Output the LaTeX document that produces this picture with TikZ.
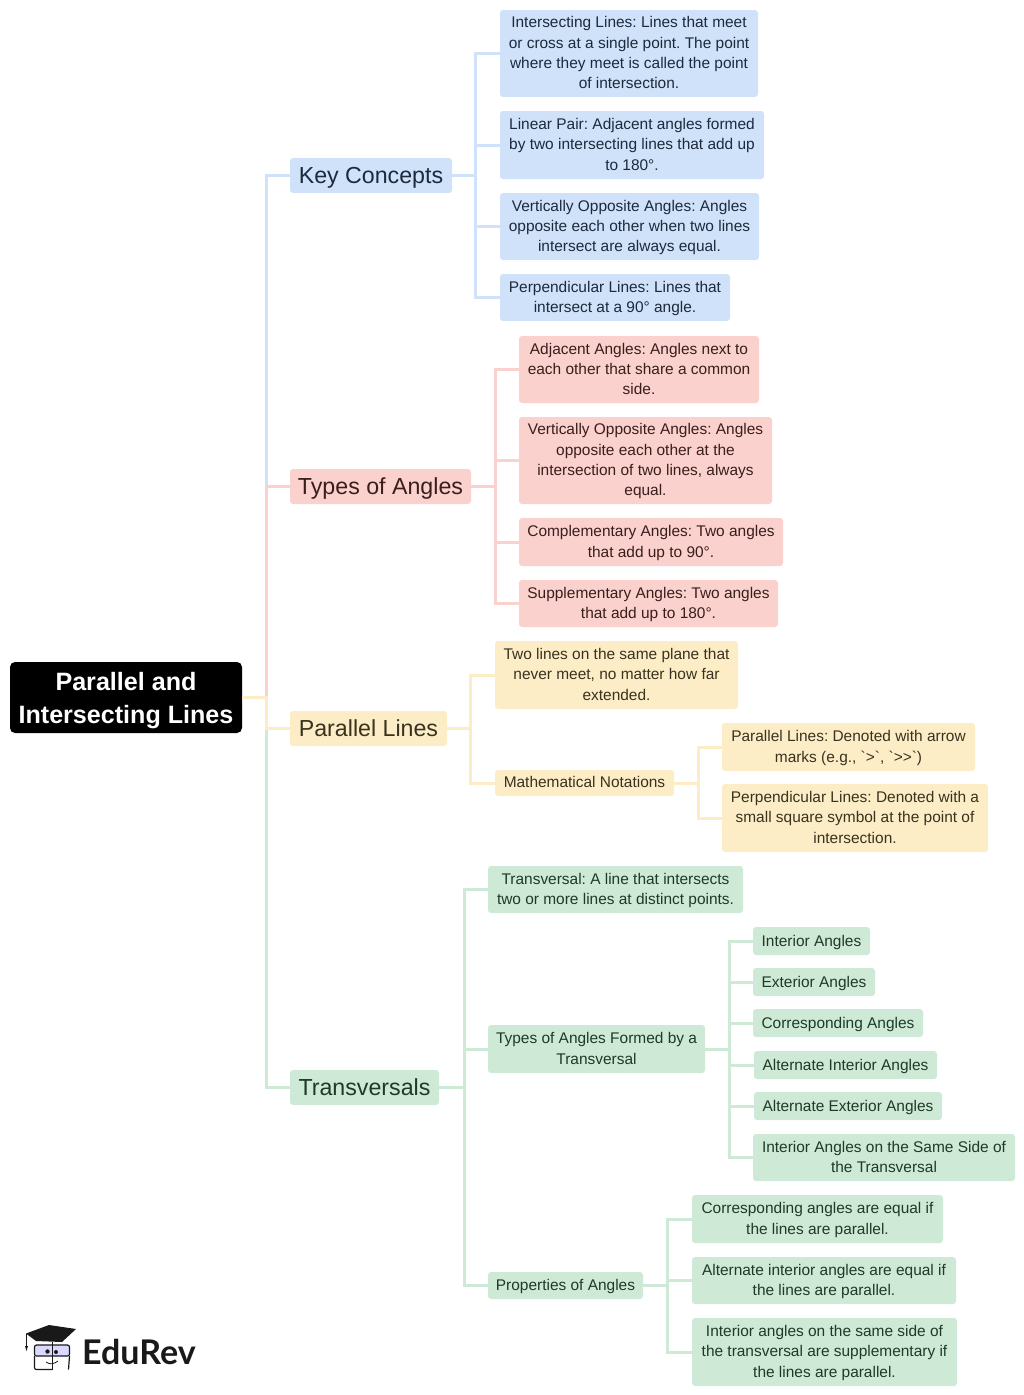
\documentclass[tikz,border=0pt]{standalone}
\usepackage{fontspec}
\newfontfamily\mapfont{Liberation Sans}
\newfontfamily\logofont{Lato}
\usetikzlibrary{calc}

\definecolor{bluefill}{HTML}{CFE2F9}
\definecolor{pinkfill}{HTML}{FAD1CD}
\definecolor{yellowfill}{HTML}{FDEDC6}
\definecolor{greenfill}{HTML}{CEEAD6}
\definecolor{bluetext}{HTML}{1D2A3D}
\definecolor{pinktext}{HTML}{3A1E1C}
\definecolor{yellowtext}{HTML}{38321F}
\definecolor{greentext}{HTML}{1E3A28}

% Height of the first line in a box
\newcommand{\topline}{\rule{0pt}{13.3pt}}

\tikzset{
    leaf/.style={rounded corners=3pt, inner sep=0pt, align=center,
        font=\mapfont\frenchspacing\fontsize{15.45}{20.3}\selectfont,
        execute at end node={\rule[-3.5pt]{0pt}{3.5pt}}},
    oneline/.style={execute at begin node={\rule{0pt}{15pt}}},
    head/.style={font=\mapfont\fontsize{23.2}{29}\selectfont,
        execute at begin node={\rule{0pt}{22pt}}, execute at end node={\rule[-5.4pt]{0pt}{5.4pt}}},
    bluebox/.style={leaf, fill=bluefill, text=bluetext},
    pinkbox/.style={leaf, fill=pinkfill, text=pinktext},
    yellowbox/.style={leaf, fill=yellowfill, text=yellowtext},
    greenbox/.style={leaf, fill=greenfill, text=greentext},
    bluelink/.style={draw=bluefill, line width=3pt},
    pinklink/.style={draw=pinkfill, line width=3pt},
    yellowlink/.style={draw=yellowfill, line width=3pt},
    greenlink/.style={draw=greenfill, line width=3pt}
}

\begin{document}
\begin{tikzpicture}[x=1pt, y=-1pt]
    \useasboundingbox (0,0) rectangle (1024,1395);

    % Root
    \node[rounded corners=5pt, fill=black, text=white, inner sep=0pt, align=center,
        font=\mapfont\bfseries\fontsize{25.1}{33}\selectfont,
        execute at end node={\rule[-5.5pt]{0pt}{5.5pt}},
        minimum width=232pt, minimum height=71pt] (root) at (126,697.5) {\rule{0pt}{23.5pt}Parallel and\\Intersecting Lines};

    % Main branches
    \node[bluebox, head, minimum width=162pt, minimum height=35pt] (concepts) at (371,175.5) {Key Concepts};
    \node[pinkbox, head, minimum width=181pt, minimum height=35pt] (angles) at (380.5,486.5) {Types of Angles};
    \node[yellowbox, head, minimum width=157pt, minimum height=35pt] (parallel) at (368.5,728.5) {Parallel Lines};
    \node[greenbox, head, minimum width=149pt, minimum height=35pt] (transversals) at (364.5,1087.5) {Transversals};

    % Key Concepts
    \node[bluebox, minimum width=258pt, minimum height=87pt] (intersecting) at (629,53.5) {\topline Intersecting Lines: Lines that meet\\or cross at a single point. The point\\where they meet is called the point\\of intersection.};
    \node[bluebox, minimum width=264pt, minimum height=68pt] (linear) at (632,145) {\topline Linear Pair: Adjacent angles formed\\by two intersecting lines that add up\\to 180°.};
    \node[bluebox, minimum width=259pt, minimum height=67pt] (vertical) at (629.5,226.5) {\topline Vertically Opposite Angles: Angles\\opposite each other when two lines\\intersect are always equal.};
    \node[bluebox, minimum width=230pt, minimum height=47pt] (perpendicular) at (615,297.5) {\topline Perpendicular Lines: Lines that\\intersect at a 90° angle.};

    % Types of Angles
    \node[pinkbox, minimum width=240pt, minimum height=67pt] (adjacent) at (639,369.5) {\topline Adjacent Angles: Angles next to\\each other that share a common\\side.};
    \node[pinkbox, minimum width=253pt, minimum height=87pt] (opposite) at (645.5,460.5) {\topline Vertically Opposite Angles: Angles\\opposite each other at the\\intersection of two lines, always\\equal.};
    \node[pinkbox, minimum width=264pt, minimum height=48pt] (complementary) at (651,542) {\topline Complementary Angles: Two angles\\that add up to 90°.};
    \node[pinkbox, minimum width=259pt, minimum height=47pt] (supplementary) at (648.5,603.5) {\topline Supplementary Angles: Two angles\\that add up to 180°.};

    % Parallel Lines
    \node[yellowbox, minimum width=243pt, minimum height=68pt] (plane) at (616.5,675) {\topline Two lines on the same plane that\\never meet, no matter how far\\extended.};
    \node[yellowbox, minimum width=179pt, minimum height=26pt] (notations) at (584.5,783) {\topline Mathematical Notations};
    \node[yellowbox, minimum width=253pt, minimum height=48pt] (arrows) at (848.5,747) {\topline Parallel Lines: Denoted with arrow\\marks (e.g., \symbol{96}>\symbol{96}, \symbol{96}>>\symbol{96})};
    \node[yellowbox, minimum width=266pt, minimum height=68pt] (square) at (855,818) {\topline Perpendicular Lines: Denoted with a\\small square symbol at the point of\\intersection.};

    % Transversals
    \node[greenbox, minimum width=255pt, minimum height=47pt] (definition) at (615.5,889.5) {\topline Transversal: A line that intersects\\two or more lines at distinct points.};
    \node[greenbox, minimum width=217pt, minimum height=48pt] (formed) at (596.5,1049) {\topline Types of Angles Formed by a\\Transversal};
    \node[greenbox, minimum width=155pt, minimum height=27pt] (properties) at (565.5,1285.5) {\topline Properties of Angles};
    \node[greenbox, oneline, minimum width=117pt, minimum height=28pt] (interior) at (811.5,941) {Interior Angles};
    \node[greenbox, oneline, minimum width=122pt, minimum height=28pt] (exterior) at (814,982) {Exterior Angles};
    \node[greenbox, oneline, minimum width=170pt, minimum height=28pt] (corresponding) at (838,1023) {Corresponding Angles};
    \node[greenbox, oneline, minimum width=183pt, minimum height=28pt] (altinterior) at (845.5,1065) {Alternate Interior Angles};
    \node[greenbox, oneline, minimum width=188pt, minimum height=28pt] (altexterior) at (848,1106) {Alternate Exterior Angles};
    \node[greenbox, minimum width=262pt, minimum height=47pt] (sameside) at (884,1157.5) {\topline Interior Angles on the Same Side of\\the Transversal};
    \node[greenbox, minimum width=251pt, minimum height=48pt] (equalcorr) at (817.5,1219) {\topline Corresponding angles are equal if\\the lines are parallel.};
    \node[greenbox, minimum width=264pt, minimum height=47pt] (equalalt) at (824,1280.5) {\topline Alternate interior angles are equal if\\the lines are parallel.};
    \node[greenbox, minimum width=265pt, minimum height=68pt] (supp) at (824.5,1352) {\topline Interior angles on the same side of\\the transversal are supplementary if\\the lines are parallel.};

    % Bus points
    \coordinate (busroot) at (266,697.5);
    \coordinate (busconcepts) at (475,175.5);
    \coordinate (busangles) at (495,486.5);
    \coordinate (busparallel) at (470.5,728.5);
    \coordinate (busnotations) at (698,783);
    \coordinate (bustrans) at (464,1087.5);
    \coordinate (busformed) at (729,1049);
    \coordinate (busprops) at (667,1285.5);

    % Connectors
    \draw[bluelink] (root.east) -- (busroot) |- (concepts.west);
    \draw[pinklink] (root.east) -- (busroot) |- (angles.west);
    \draw[greenlink] (root.east) -- (busroot) |- (transversals.west);
    \draw[yellowlink] (root.east) -- (busroot) |- (parallel.west);

    \foreach \leafname in {intersecting,linear,vertical,perpendicular}
        \draw[bluelink] (concepts.east) -- (busconcepts) |- (\leafname.west);
    \foreach \leafname in {adjacent,opposite,complementary,supplementary}
        \draw[pinklink] (angles.east) -- (busangles) |- (\leafname.west);
    \foreach \leafname in {plane,notations}
        \draw[yellowlink] (parallel.east) -- (busparallel) |- (\leafname.west);
    \foreach \leafname in {arrows,square}
        \draw[yellowlink] (notations.east) -- (busnotations) |- (\leafname.west);
    \foreach \leafname in {definition,formed,properties}
        \draw[greenlink] (transversals.east) -- (bustrans) |- (\leafname.west);
    \foreach \leafname in {interior,exterior,corresponding,altinterior,altexterior,sameside}
        \draw[greenlink] (formed.east) -- (busformed) |- (\leafname.west);
    \foreach \leafname in {equalcorr,equalalt,supp}
        \draw[greenlink] (properties.east) -- (busprops) |- (\leafname.west);

    % Logo
    \node[anchor=west, inner sep=0pt, font=\logofont\bfseries\fontsize{34}{38}\selectfont, text=black!90] (logotext) at (82,1352) {EduRev};
    \fill[black!90] (26,1333.5) -- (49,1325) -- (76,1329) -- (62,1342) -- (36,1341) -- cycle;
    \draw[black!90, line width=1pt] (26.5,1333.5) -- (26.5,1346);
    \fill[black!90] (25,1346) -- (28,1346) -- (26.5,1351) -- cycle;
    \draw[black!90, line width=1.2pt, fill=blue!15, rounded corners=2pt] (34.5,1345) rectangle (69.5,1356);
    \draw[black!90, line width=1pt] (52,1342) -- (52,1370);
    \fill[black!90] (47.5,1351.5) circle (2.2pt) (56,1352) circle (2pt);
    \draw[black!90, line width=1.2pt, rounded corners=2pt] (34.5,1356) -- (34.5,1369.5) -- (52,1369.5);
    \draw[black!90, line width=1.2pt, rounded corners=2pt] (69.5,1356) -- (68.5,1369.5);
    \draw[black!90, line width=0.8pt] (46,1362) .. controls (50,1365) and (54,1364) .. (58,1361);
\end{tikzpicture}
\end{document}
